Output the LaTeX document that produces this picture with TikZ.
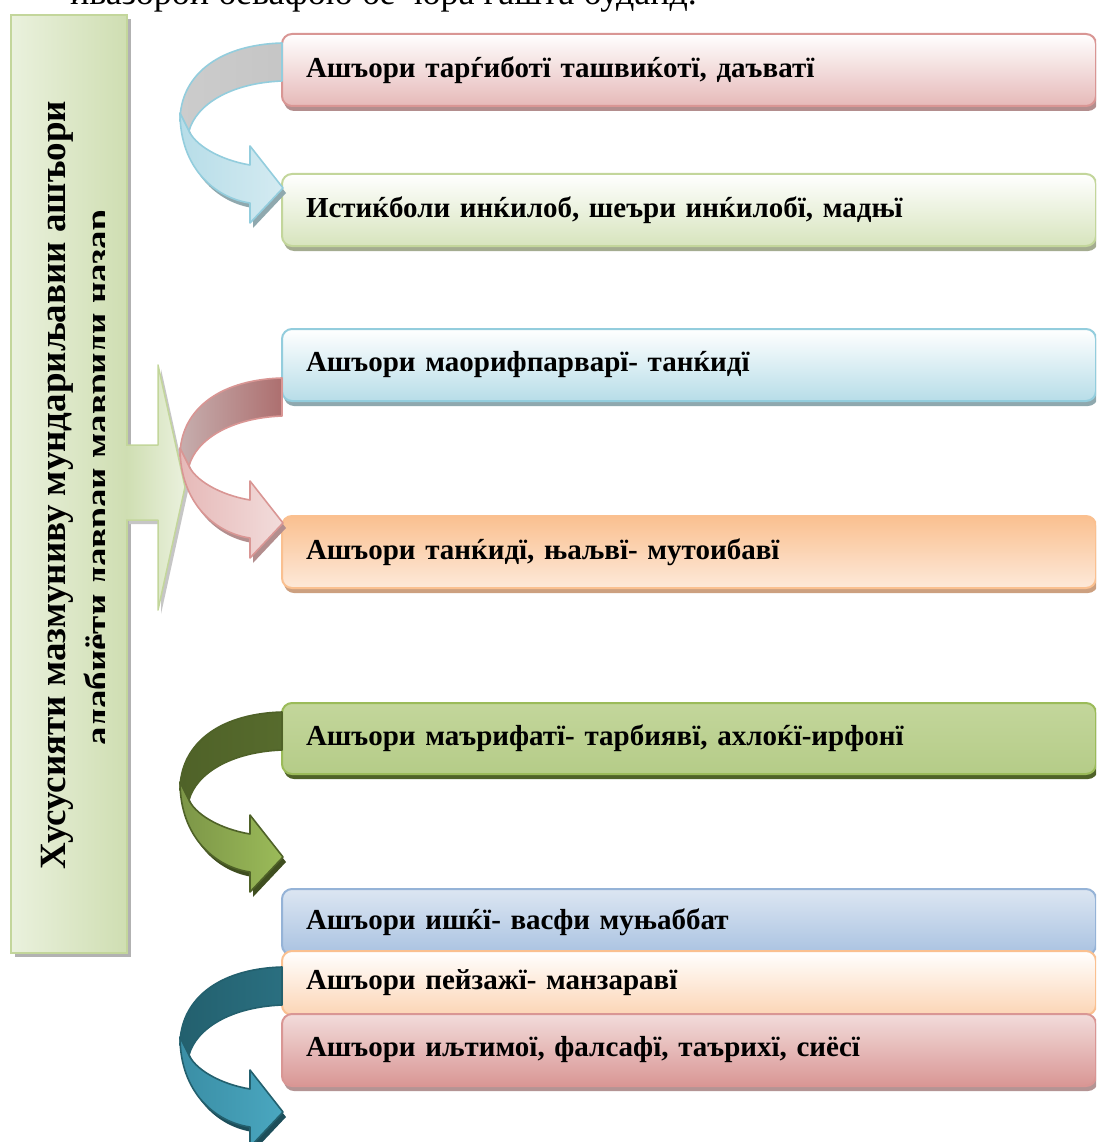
\documentclass[tikz,border=0pt]{standalone}
\usepackage{fontspec}
\setmainfont{Liberation Serif}
\definecolor{r1b}{HTML}{E6B9B8}\definecolor{r1d}{HTML}{D99694}\definecolor{r1s}{HTML}{B38E8E}
\definecolor{g1b}{HTML}{D7E4BD}\definecolor{g1d}{HTML}{C3D69B}\definecolor{g1s}{HTML}{A4AC90}
\definecolor{c1b}{HTML}{B7DDE8}\definecolor{c1d}{HTML}{93CDDD}\definecolor{c1s}{HTML}{8FA8AE}
\definecolor{o1t}{HTML}{FAC090}\definecolor{o1b}{HTML}{FDE9D9}\definecolor{o1s}{HTML}{CCA080}
\definecolor{g2t}{HTML}{C3D69B}\definecolor{g2b}{HTML}{B5CC88}\definecolor{g2d}{HTML}{9BBB59}\definecolor{g2s}{HTML}{4F6228}
\definecolor{b6t}{HTML}{DCE6F2}\definecolor{b6b}{HTML}{A9C2E1}\definecolor{b6d}{HTML}{95B3D7}
\definecolor{p7b}{HTML}{FCD5B5}\definecolor{p7d}{HTML}{FAC090}
\definecolor{r8t}{HTML}{F2DCDB}\definecolor{r8b}{HTML}{D99694}\definecolor{r8d}{HTML}{D99694}\definecolor{r8s}{HTML}{B49494}
\definecolor{lgl}{HTML}{EAF1DD}\definecolor{lgr}{HTML}{CFDEB2}\definecolor{lgd}{HTML}{C3D69B}
\definecolor{tl1}{HTML}{23606E}\definecolor{tl2}{HTML}{2A6F80}\definecolor{tl3}{HTML}{3A8EA5}\definecolor{tl4}{HTML}{4AA7C0}\definecolor{tls}{HTML}{1D4E5A}
\definecolor{rp1}{HTML}{C6AEAE}\definecolor{rp2}{HTML}{AD6F6F}
\newcommand\curvedarr[7]{%
\begin{scope}[shift={(0,#1)}]
\fill[#7] (183,74) .. controls (183,130) and (218,160) .. (253,165) -- (253,185) -- (286,150) -- (253,108) -- (253,127) .. controls (223,122) and (196,105) .. (190,88) -- cycle;
\draw[line width=1.6pt, draw=#6, left color=#2, right color=#3, line join=round] (282,0) .. controls (215,2) and (180,35) .. (180,78) -- (189,88) .. controls (196,62) and (230,40) .. (282,38) -- cycle;
\draw[line width=1.6pt, draw=#6, left color=#4, right color=#5, line join=round] (180,70) .. controls (180,125) and (215,155) .. (250,160) -- (250,180) -- (283,145) -- (250,103) -- (250,122) .. controls (220,117) and (194,102) .. (188,86) -- cycle;
\end{scope}}
\tikzset{
  rbox/.style={anchor=north west, rounded corners=10pt, line width=2pt, minimum width=814pt,
    text width=766pt, align=left, inner xsep=24pt, inner ysep=0pt,
    font=\bfseries\fontsize{29}{34}\selectfont},
  shad/.style={preaction={fill=#1, transform canvas={shift={(2pt,-5pt)}}}},
}
\begin{document}
\begin{tikzpicture}[x=1pt,y=-1pt]
\useasboundingbox (0,0) rectangle (1096,1142);
\clip (0,0) rectangle (1096,1142);
\fill[white] (0,0) rectangle (1096,1142);
% top cut text
\node[anchor=base west, inner sep=0pt, font=\fontsize{36}{40}\selectfont] (toptext) at (70,5) {ивазорои бевафою бе чора гашта буданд.};
% left box
\fill[gray!60] (15,19) rectangle (131,957);
\node[anchor=north west, draw=lgd, line width=2pt, left color=lgl, right color=lgr, minimum width=116pt, minimum height=938pt, inner sep=0pt] (main) at (10,14) {};
\node[rotate=90, font=\bfseries\fontsize{37}{42}\selectfont, inner sep=0pt] (t1) at (57,485) {Хусусияти мазмуниву мундариљавии ашъори};
\begin{scope}
\clip (11,15) rectangle (104,951);
\node[rotate=90, anchor=base, font=\bfseries\fontsize{37}{42}\selectfont, inner sep=0pt] (t2) at (110,478) {адабиёти давраи мавриди назар};
\end{scope}
% big block arrow
\fill[gray!45] (129,449) -- (161,449) -- (161,369) -- (188,491) -- (161,614) -- (161,524) -- (129,524) -- cycle;
\draw[draw=lgd, line width=1.5pt, left color=lgr, right color=lgl, line join=round] (126,445) -- (158,445) -- (158,365) -- (185,487) -- (158,610) -- (158,520) -- (126,520);
% right boxes
\node[rbox, draw=r1d, top color=white, bottom color=r1b, minimum height=72pt, shad=r1s] (b1) at (281,33) {Ашъори тарѓиботї ташвиќотї, даъватї};
\node[rbox, draw=g1d, top color=white, bottom color=g1b, minimum height=72pt, shad=g1s] (b2) at (281,173) {Истиќболи инќилоб, шеъри инќилобї, мадњї};
\node[rbox, draw=c1d, top color=white, bottom color=c1b, minimum height=72pt, shad=c1s] (b3) at (281,328) {Ашъори маорифпарварї- танќидї};
\node[rbox, draw=o1t, top color=o1t, bottom color=o1b, minimum height=72pt, shad=o1s] (b4) at (281,515) {Ашъори танќидї, њаљвї- мутоибавї};
\node[rbox, draw=g2d, top color=g2t, bottom color=g2b, minimum height=71pt, shad=g2s] (b5) at (281,702) {Ашъори маърифатї- тарбиявї, ахлоќї-ирфонї};
\node[rbox, draw=b6d, top color=b6t, bottom color=b6b, minimum height=66pt] (b6) at (281,888) {Ашъори ишќї- васфи муњаббат};
\node[rbox, draw=p7d, top color=white, bottom color=p7b, minimum height=64pt] (b7) at (281,950) {Ашъори пейзажї- манзаравї};
\node[rbox, draw=r8d, top color=r8t, bottom color=r8b, minimum height=72pt, shad=r8s] (b8) at (281,1013) {Ашъори иљтимої, фалсафї, таърихї, сиёсї};
% curved arrows
\curvedarr{43}{gray!40}{gray!45}{c1b}{c1b!60}{c1d}{c1s}
\curvedarr{378}{rp1}{rp2}{r1b}{r8t}{r1d}{r1s}
\curvedarr{712}{g2s}{g2s!90!g2d}{g2d!80!black}{g2d}{g2s}{g2s!80!black}
\curvedarr{967}{tl1}{tl2}{tl3}{tl4}{tl1}{tls}
\end{tikzpicture}
\end{document}
